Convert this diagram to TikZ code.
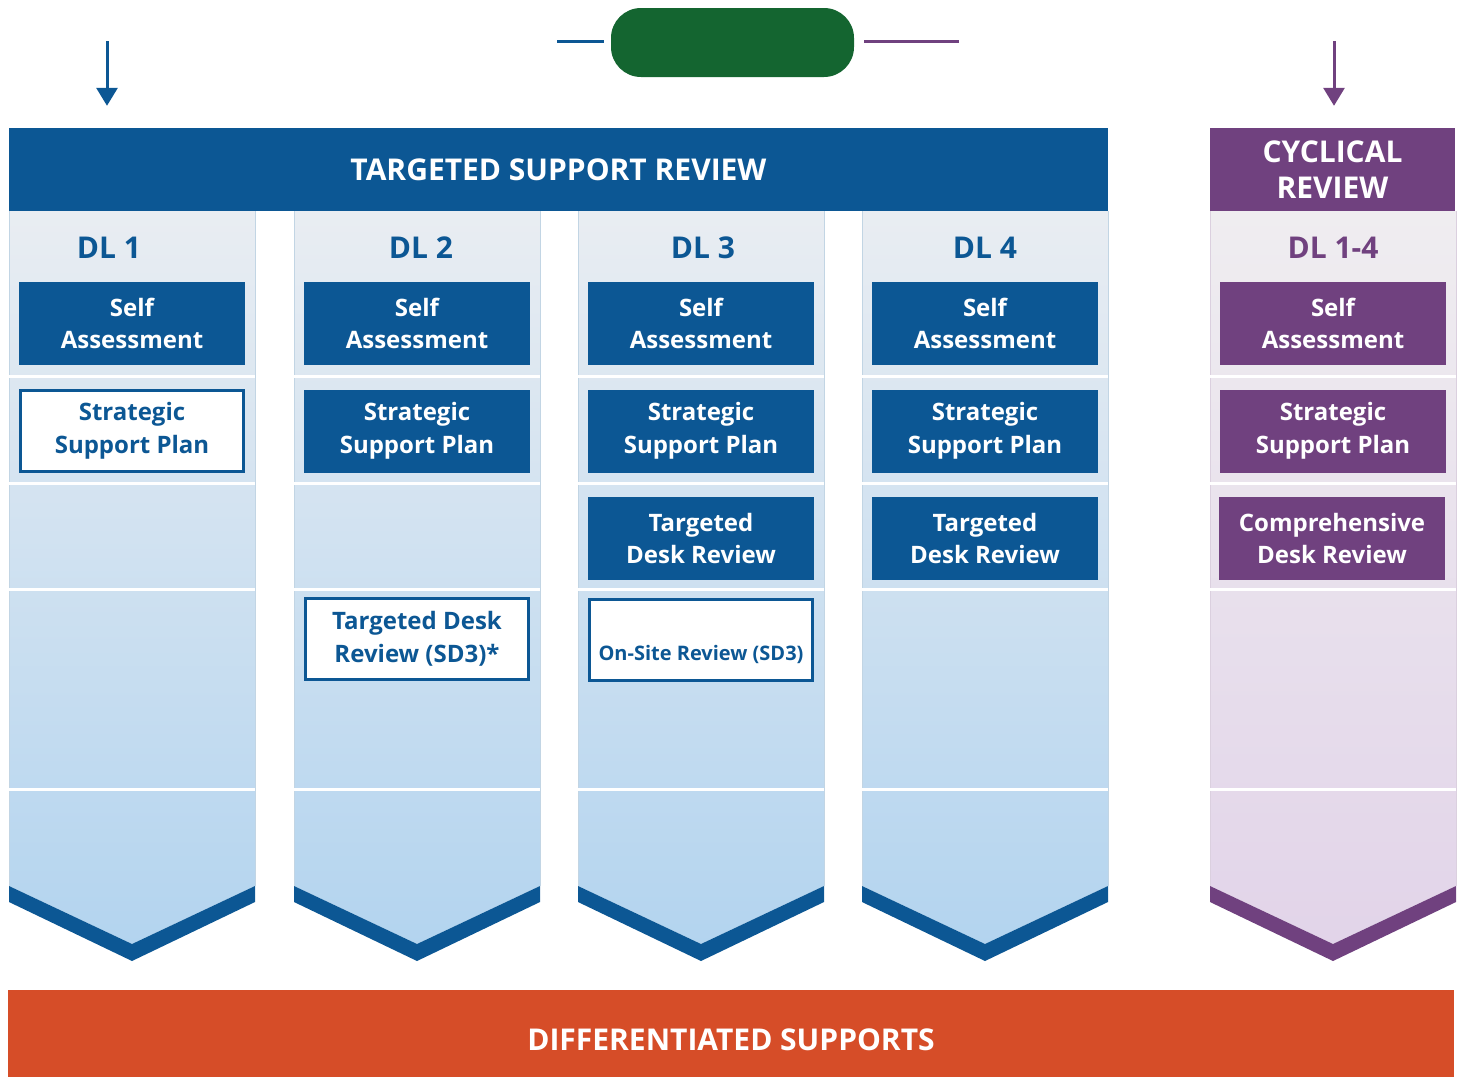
\documentclass[tikz,border=0pt]{standalone}
\usepackage{fontspec}
\setmainfont{Open Sans}
\usetikzlibrary{arrows.meta,positioning}
\definecolor{tsblue}{RGB}{12,87,148}
\definecolor{cyc}{RGB}{112,65,127}
\definecolor{pillgreen}{RGB}{20,101,48}
\definecolor{rust}{RGB}{214,77,40}
\definecolor{lanetop}{RGB}{233,237,242}
\definecolor{lanebot}{RGB}{179,212,239}
\definecolor{cyctop}{RGB}{239,237,240}
\definecolor{cycbot}{RGB}{226,212,233}
\newcommand\bandfont{\fontsize{30}{36}\selectfont\bfseries}
\newcommand\levelfont{\fontsize{30}{36}\selectfont\bfseries}
\newcommand\boxfont{\fontsize{24}{32.5}\selectfont\bfseries}
\newcommand\smallboxfont{\fontsize{20}{24}\selectfont\bfseries}
\tikzset{
  >={Triangle[length=18pt,width=21pt]},
  band/.style={fill=#1,text=white,font=\bandfont,align=center,inner sep=0pt},
  band/.default=tsblue,
  level/.style={text=#1,font=\levelfont,inner sep=0pt},
  level/.default=tsblue,
  solid box/.style={fill=#1,text=white,minimum width=226pt,minimum height=83pt,
    align=center,font=\boxfont,inner sep=0pt},
  solid box/.default=tsblue,
  open box/.style={fill=white,draw=#1,line width=2.6pt,text=#1,minimum width=223pt,
    minimum height=81pt,align=center,font=\boxfont,inner sep=0pt},
  open box/.default=tsblue,
  feed/.style={->,line width=3pt,draw=#1},
}

\begin{document}
\begin{tikzpicture}[x=1pt,y=-1pt]
  \useasboundingbox (0,0) rectangle (1461,1076);
  % lanes: left edge / shade top / shade bottom / edge colour
  \foreach \X/\ct/\cb/\ce in {9/lanetop/lanebot/tsblue,294/lanetop/lanebot/tsblue,
      578/lanetop/lanebot/tsblue,862/lanetop/lanebot/tsblue,1210/cyctop/cycbot/cyc}{
    \shade[top color=\ct,bottom color=\cb] (\X,211) -- ++(246,0) -- ++(0,675) -- ++(-123,58) -- ++(-123,-58) -- cycle;
    \draw[\ce!25,line width=0.8pt] (\X,211) -- (\X,886) (\X+246,211) -- (\X+246,886);
    \foreach \y in {376.5,483,589,789}
      \draw[white,line width=3pt] (\X,\y) -- ++(246,0);
    \fill[\ce] (\X,886) -- ++(123,58) -- ++(123,-58) -- ++(0,16) -- ++(-123,59) -- ++(-123,-59) -- cycle;
  }

  % headers
  \node[band,minimum width=1099pt,minimum height=83pt] (tsr) at (558.5,169.5) {TARGETED SUPPORT REVIEW};
  \node[band=cyc,minimum width=245pt,minimum height=83pt] (cycl) at (1332.5,169.5) {CYCLICAL\\REVIEW};
  \node[band=rust,minimum width=1446pt,minimum height=100pt] (diff) at (731,1040) {DIFFERENTIATED SUPPORTS};
  \node[fill=pillgreen,rounded corners=30pt,minimum width=243pt,minimum height=69pt] (pill) at (732.5,42.5) {};

  % feeds into the two reviews
  \coordinate (tsin) at (107,41);
  \coordinate (cycin) at (1334,41);
  \coordinate (lbar) at (557,41);
  \coordinate (rbar) at (959,41);
  \draw[feed=tsblue,shorten >=22pt] (tsin) -- (tsin |- tsr.north);
  \draw[feed=cyc,shorten >=22pt] (cycin) -- (cycin |- cycl.north);
  \draw[tsblue,line width=3pt,shorten >=7pt] (lbar) -- (lbar -| pill.west);
  \draw[cyc,line width=3pt,shorten >=10pt] (rbar) -- (rbar -| pill.east);

  % levels and self assessment
  \foreach \X/\n/\lab/\c/\dx in {9/1/DL 1/tsblue/-23,294/2/DL 2/tsblue/4,578/3/DL 3/tsblue/2,
      862/4/DL 4/tsblue/0,1210/5/DL 1-4/cyc/0}{
    \node[level=\c] (dl\n) at (\X+123+\dx,248) {\lab};
    \node[solid box=\c] (self\n) at (\X+123,323.5) {Self\\Assessment};
  }

  % support plans
  \node[open box] (plan1) at (132,431) {Strategic\\Support Plan};
  \foreach \X/\n/\c in {294/2/tsblue,578/3/tsblue,862/4/tsblue,1210/5/cyc}
    \node[solid box=\c] (plan\n) at (\X+123,431) {Strategic\\Support Plan};

  % desk reviews
  \node[solid box] (desk3) at (701,538.5) {Targeted\\Desk Review};
  \node[solid box] (desk4) at (985,538.5) {Targeted\\Desk Review};
  \node[solid box=cyc] (desk5) at (1332,538.5) {Comprehensive\\Desk Review};
  \node[open box] (desk2) at (417,639) {Targeted Desk\\Review (SD3)*};
  \node[open box,font=\smallboxfont,text height=45pt,text depth=5pt] (site3) at (701,640) {On-Site Review (SD3)};
\end{tikzpicture}
\end{document}
